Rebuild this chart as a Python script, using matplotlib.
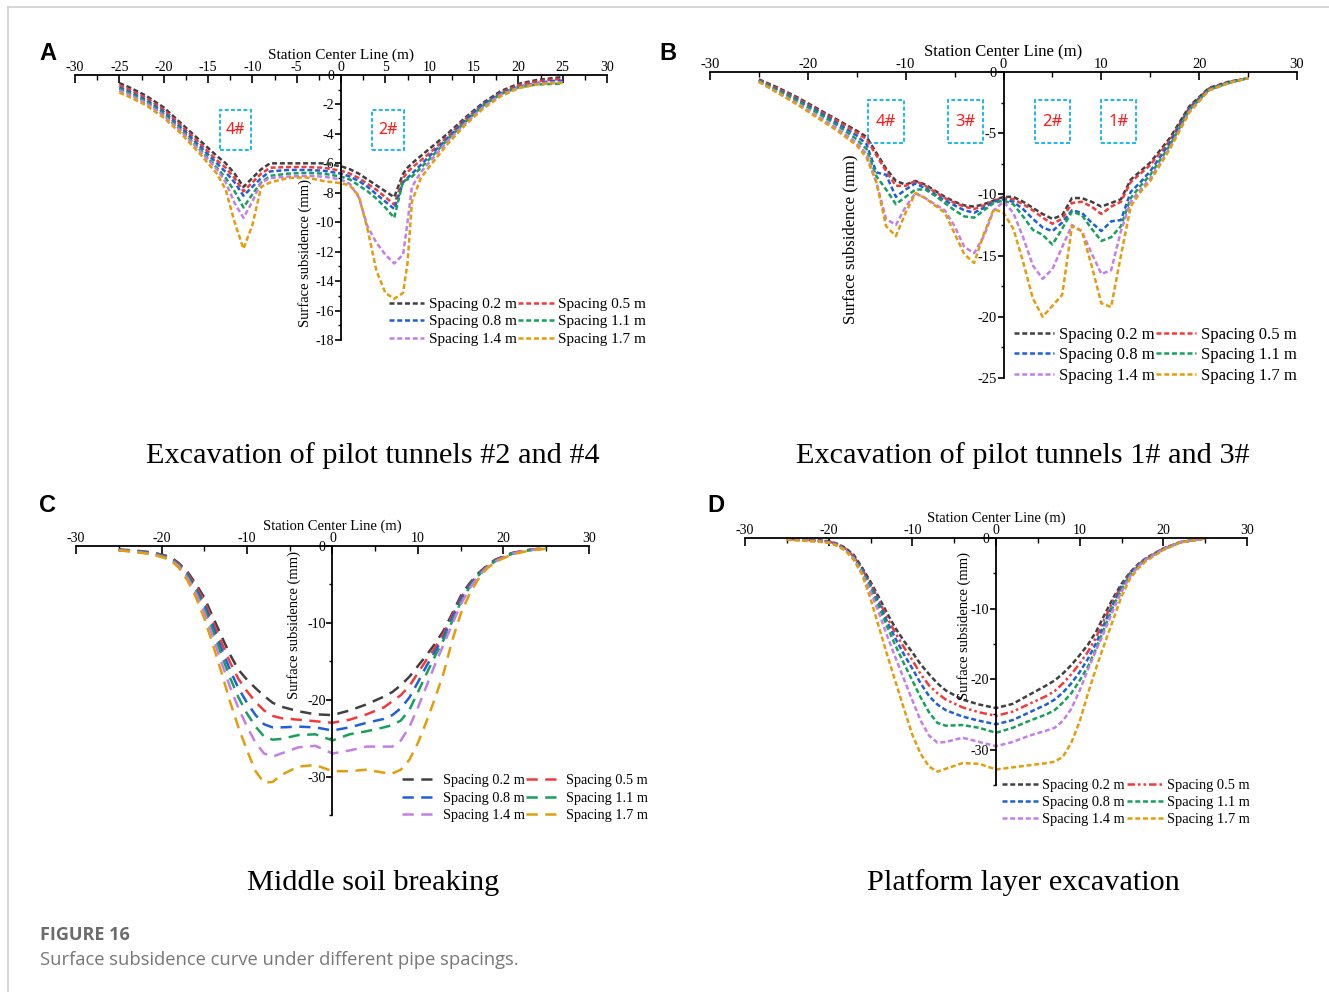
import matplotlib
matplotlib.use('Agg')
import matplotlib.pyplot as plt
from matplotlib.patches import Rectangle
from matplotlib.lines import Line2D
from matplotlib.ticker import MultipleLocator

plt.rcParams['axes.unicode_minus'] = False
SERIF = 'Liberation Serif'

labels = ['Spacing 0.2 m', 'Spacing 0.5 m', 'Spacing 0.8 m',
          'Spacing 1.1 m', 'Spacing 1.4 m', 'Spacing 1.7 m']
colors = ['#404040', '#f23a3a', '#1f5fd8', '#17a05c', '#c47fe6', '#e39d0c']

# ---------------- Panel A ----------------
xA = [-25, -24, -22, -20, -18, -16, -14, -13, -12, -11, -10, -9, -8, -6, -4, -2, 0, 1, 2, 3, 4, 5, 6, 7, 7.5, 8, 9, 10, 12, 14, 16, 18, 20, 22, 24, 25]
a_02 = [-0.55, -0.8, -1.4, -2.2, -3.3, -4.4, -5.5, -6.0, -6.7, -7.6, -7.0, -6.4, -6.0, -6.0, -6.0, -6.0, -6.2, -6.4, -6.7, -7.1, -7.5, -7.9, -8.3, -6.7, -6.3, -6.0, -5.5, -5.0, -4.0, -2.9, -1.9, -1.1, -0.6, -0.35, -0.2, -0.15]
a_05 = [-0.7, -0.95, -1.55, -2.35, -3.45, -4.6, -5.8, -6.3, -7.0, -7.9, -7.3, -6.7, -6.3, -6.25, -6.25, -6.3, -6.5, -6.7, -7.0, -7.4, -7.8, -8.3, -8.8, -7.0, -6.6, -6.3, -5.8, -5.3, -4.2, -3.0, -2.0, -1.2, -0.7, -0.45, -0.3, -0.28]
a_08 = [-0.85, -1.1, -1.7, -2.5, -3.6, -4.8, -6.0, -6.6, -7.3, -8.2, -7.6, -7.0, -6.55, -6.45, -6.45, -6.5, -6.7, -6.9, -7.2, -7.6, -8.1, -8.6, -9.1, -7.3, -7.0, -6.7, -6.1, -5.5, -4.3, -3.1, -2.0, -1.25, -0.8, -0.55, -0.4, -0.38]
a_11 = [-0.95, -1.2, -1.8, -2.65, -3.75, -5.0, -6.3, -7.0, -7.9, -9.0, -8.1, -7.3, -6.85, -6.7, -6.65, -6.7, -6.9, -7.1, -7.5, -7.9, -8.4, -9.0, -9.7, -7.2, -7.1, -6.9, -6.3, -5.7, -4.4, -3.2, -2.1, -1.3, -0.85, -0.65, -0.6, -0.6]
a_14 = [-1.05, -1.3, -1.9, -2.75, -3.85, -5.1, -6.4, -7.3, -8.7, -9.7, -8.6, -7.3, -7.0, -6.9, -6.85, -6.9, -7.1, -7.4, -8.3, -10.3, -11.4, -12.2, -12.8, -12.2, -10.0, -7.6, -6.6, -5.9, -4.5, -3.3, -2.2, -1.35, -0.85, -0.6, -0.5, -0.5]
a_17 = [-1.2, -1.45, -2.05, -2.9, -4.0, -5.3, -6.7, -7.8, -10.0, -11.8, -10.2, -7.6, -7.3, -7.0, -6.95, -7.2, -7.35, -7.5, -8.2, -10.5, -13.3, -14.8, -15.2, -14.8, -12.8, -8.6, -7.0, -6.2, -4.7, -3.4, -2.3, -1.45, -0.9, -0.65, -0.55, -0.55]

# ---------------- Panel B ----------------
xB = [-25, -23, -21, -19, -17, -15, -14, -13, -12, -11, -10, -9, -8, -7, -6, -5, -4, -3, -2, -1, 0, 1, 2, 3, 4, 5, 6, 7, 8, 9, 10, 11, 12, 13, 14, 15, 17, 19, 21, 23, 25]
b_02 = [-0.6, -1.3, -2.1, -3.0, -3.9, -4.8, -5.3, -6.6, -7.9, -8.9, -9.2, -8.9, -9.2, -9.7, -10.2, -10.6, -10.9, -11.0, -10.8, -10.5, -10.2, -10.2, -10.6, -11.1, -11.6, -12.0, -11.7, -10.3, -10.3, -10.6, -11.0, -10.7, -10.4, -8.8, -8.1, -7.4, -5.4, -2.8, -1.3, -0.8, -0.5]
b_05 = [-0.65, -1.4, -2.2, -3.1, -4.0, -4.95, -5.5, -6.8, -8.1, -9.3, -9.3, -8.9, -9.3, -9.8, -10.3, -10.7, -11.0, -11.2, -10.9, -10.5, -10.3, -10.4, -10.8, -11.3, -11.9, -12.4, -12.0, -10.7, -10.6, -11.0, -11.6, -11.0, -10.6, -9.0, -8.3, -7.6, -5.6, -2.9, -1.35, -0.85, -0.5]
b_08 = [-0.7, -1.5, -2.3, -3.2, -4.2, -5.2, -5.9, -8.2, -8.4, -10.2, -9.6, -9.1, -9.5, -10.0, -10.5, -10.9, -11.3, -11.5, -11.1, -10.6, -10.4, -10.6, -11.2, -12.0, -12.7, -13.0, -12.3, -11.3, -11.5, -12.3, -13.0, -12.2, -12.1, -9.8, -9.0, -8.1, -5.8, -3.0, -1.4, -0.85, -0.5]
b_11 = [-0.75, -1.55, -2.4, -3.35, -4.35, -5.5, -6.3, -8.5, -9.6, -10.8, -10.2, -9.6, -9.6, -10.1, -10.7, -11.3, -11.8, -11.9, -11.3, -10.7, -10.5, -10.8, -11.8, -12.9, -13.3, -14.1, -12.8, -11.4, -11.7, -12.8, -13.8, -13.5, -12.6, -10.3, -9.3, -8.4, -6.0, -3.1, -1.45, -0.9, -0.5]
b_14 = [-0.8, -1.7, -2.6, -3.6, -4.6, -5.8, -6.7, -9.0, -12.0, -12.5, -11.0, -9.9, -10.3, -10.8, -11.3, -12.6, -14.3, -14.8, -13.4, -11.3, -10.6, -11.5, -13.5, -15.8, -16.9, -16.1, -14.3, -12.5, -13.0, -14.8, -16.5, -16.2, -13.0, -10.6, -9.6, -8.7, -6.2, -3.2, -1.5, -0.9, -0.5]
b_17 = [-0.8, -1.75, -2.7, -3.75, -4.8, -6.0, -7.0, -9.0, -12.6, -13.4, -11.5, -9.9, -10.3, -10.9, -11.5, -13.2, -14.9, -15.6, -13.2, -11.2, -11.5, -12.8, -15.5, -18.5, -20.0, -19.1, -18.2, -12.6, -13.0, -15.8, -18.9, -19.2, -15.0, -11.0, -9.8, -8.9, -6.3, -3.3, -1.5, -0.9, -0.5]

# ---------------- Panel C ----------------
xC = [-25, -23, -21, -19, -18, -17, -16, -15, -14, -13, -12, -11, -10, -9, -8, -7, -6, -4, -2, 0, 2, 4, 6, 7, 8, 9, 10, 11, 12, 13, 14, 15, 16, 17, 18, 19, 21, 23, 25]
c_02 = [-0.45, -0.6, -0.85, -1.4, -2.2, -3.3, -4.9, -6.7, -9.2, -11.7, -14.1, -16.1, -17.4, -18.5, -19.5, -20.4, -20.9, -21.5, -21.9, -22.0, -21.4, -20.6, -19.6, -19.0, -18.1, -17.0, -15.6, -14.2, -12.7, -11.0, -8.8, -6.5, -4.9, -3.6, -2.6, -1.8, -0.9, -0.5, -0.25]
c_05 = [-0.5, -0.65, -0.9, -1.5, -2.3, -3.5, -5.2, -7.1, -9.8, -12.5, -15.1, -17.3, -18.9, -20.3, -21.4, -22.1, -22.4, -22.6, -22.8, -23.0, -22.6, -21.9, -21.0, -20.2, -19.4, -18.2, -16.5, -14.8, -13.2, -11.4, -9.1, -6.8, -5.1, -3.7, -2.7, -1.9, -0.95, -0.5, -0.28]
c_08 = [-0.5, -0.65, -0.95, -1.55, -2.4, -3.7, -5.5, -7.6, -10.4, -13.3, -16.1, -18.5, -20.4, -22.0, -23.2, -23.6, -23.6, -23.5, -23.6, -24.0, -23.6, -23.0, -22.5, -22.0, -21.1, -19.7, -17.7, -15.6, -13.7, -11.8, -9.4, -7.0, -5.2, -3.8, -2.75, -1.95, -1.0, -0.55, -0.3]
c_11 = [-0.55, -0.7, -1.0, -1.6, -2.5, -3.9, -5.8, -8.1, -11.0, -14.1, -17.1, -19.7, -21.8, -23.5, -24.8, -25.2, -25.1, -24.6, -24.5, -25.3, -24.5, -24.1, -23.6, -23.3, -22.7, -21.3, -19.0, -16.6, -14.3, -12.2, -9.8, -7.3, -5.4, -3.9, -2.8, -2.0, -1.0, -0.55, -0.3]
c_14 = [-0.55, -0.75, -1.05, -1.7, -2.6, -4.1, -6.1, -8.6, -11.8, -15.1, -18.3, -21.1, -23.5, -25.6, -27.0, -27.4, -27.0, -26.2, -26.0, -27.0, -26.6, -26.1, -26.1, -26.1, -25.3, -23.5, -21.0, -18.2, -15.4, -12.8, -10.2, -7.6, -5.6, -4.0, -2.85, -2.0, -1.0, -0.55, -0.3]
c_17 = [-0.55, -0.8, -1.1, -1.8, -2.8, -4.4, -6.6, -9.4, -12.8, -16.4, -20.2, -23.6, -26.6, -29.3, -30.8, -30.7, -29.8, -28.7, -28.5, -29.3, -29.3, -29.1, -29.5, -29.6, -29.1, -27.8, -25.6, -22.8, -19.8, -16.5, -12.3, -8.8, -6.3, -4.4, -3.0, -2.1, -1.1, -0.6, -0.35]

# ---------------- Panel D ----------------
xD = [-25, -23, -21, -20, -19, -18, -17, -16, -15, -14, -13, -12, -11, -10, -9, -8, -7, -6, -4, -2, 0, 2, 4, 6, 7, 8, 9, 10, 11, 12, 13, 14, 15, 16, 17, 18, 20, 22, 25]
d_02 = [-0.15, -0.25, -0.35, -0.45, -0.8, -1.4, -2.4, -4.2, -6.2, -8.4, -10.7, -12.8, -14.6, -16.2, -17.9, -19.3, -20.6, -21.6, -22.9, -23.6, -24.1, -23.5, -22.2, -20.9, -20.2, -19.2, -18.0, -16.6, -15.1, -13.2, -10.8, -8.5, -6.5, -4.9, -3.7, -2.8, -1.5, -0.6, -0.05]
d_05 = [-0.15, -0.25, -0.4, -0.5, -0.85, -1.5, -2.6, -4.4, -6.5, -8.8, -11.3, -13.5, -15.5, -17.3, -19.3, -20.9, -22.0, -22.9, -24.0, -24.7, -25.2, -24.6, -23.5, -22.4, -21.7, -20.6, -19.3, -17.8, -16.1, -14.0, -11.4, -8.9, -6.8, -5.0, -3.8, -2.85, -1.5, -0.6, -0.05]
d_08 = [-0.15, -0.27, -0.42, -0.55, -0.9, -1.6, -2.7, -4.5, -6.7, -9.2, -11.9, -14.3, -16.5, -18.5, -20.6, -22.4, -23.6, -24.4, -25.3, -25.9, -26.4, -25.8, -24.7, -23.6, -22.9, -21.9, -20.6, -19.0, -17.1, -14.8, -12.0, -9.3, -7.0, -5.1, -3.85, -2.9, -1.55, -0.6, -0.05]
d_11 = [-0.17, -0.3, -0.45, -0.6, -0.95, -1.65, -2.8, -4.7, -7.0, -9.7, -12.6, -15.3, -17.8, -20.2, -22.6, -24.7, -26.2, -26.6, -26.5, -26.9, -27.6, -26.9, -25.9, -25.0, -24.4, -23.3, -22.0, -20.2, -18.2, -15.6, -12.6, -9.7, -7.3, -5.3, -3.95, -2.95, -1.6, -0.6, -0.05]
d_14 = [-0.2, -0.33, -0.48, -0.62, -1.0, -1.7, -2.9, -5.0, -7.6, -10.6, -13.9, -17.0, -20.0, -23.0, -25.9, -28.0, -29.0, -28.9, -28.3, -28.9, -29.5, -28.9, -28.0, -27.3, -26.9, -25.9, -24.2, -21.6, -18.6, -15.8, -13.1, -10.2, -7.6, -5.5, -4.05, -3.0, -1.6, -0.6, -0.05]
d_17 = [-0.25, -0.4, -0.55, -0.7, -1.1, -1.8, -3.1, -5.2, -8.6, -12.6, -16.6, -20.4, -24.2, -27.9, -30.6, -32.4, -33.1, -32.7, -31.9, -32.0, -32.8, -32.5, -32.2, -31.9, -31.7, -31.0, -29.0, -26.0, -22.0, -18.3, -14.9, -11.6, -8.3, -5.8, -4.3, -3.2, -1.7, -0.65, -0.05]

boxesA = [('4#', -13.7, -10.1), ('2#', 3.5, 7.1)]
boxesB = [('4#', -13.8, -10.2), ('3#', -5.7, -2.1), ('2#', 3.2, 6.8), ('1#', 10.0, 13.5)]

W, H = 1329, 992
fig = plt.figure(figsize=(W / 100, H / 100), dpi=100)


def rect(l, r, t, b):
    return [l / W, 1 - b / H, (r - l) / W, (b - t) / H]


def style(ax, ylim, xmaj, xmin, ymaj, ymin, tfs, lfs):
    ax.set_xlim(-30, 30)
    ax.set_ylim(ylim, 0)
    ax.patch.set_alpha(0)
    for s in ['right', 'bottom']:
        ax.spines[s].set_visible(False)
    ax.spines['left'].set_position(('data', 0))
    for s in ['left', 'top']:
        ax.spines[s].set_linewidth(1.3)
    ax.xaxis.tick_top()
    ax.xaxis.set_label_position('top')
    ax.xaxis.set_major_locator(MultipleLocator(xmaj))
    ax.xaxis.set_minor_locator(MultipleLocator(xmin))
    ax.yaxis.set_major_locator(MultipleLocator(ymaj))
    if ymin:
        ax.yaxis.set_minor_locator(MultipleLocator(ymin))
    ax.tick_params(axis='x', which='major', direction='in', length=6, width=1.2, pad=1, labelsize=tfs)
    ax.tick_params(axis='x', which='minor', direction='in', length=3.5, width=1.0)
    ax.tick_params(axis='y', which='major', direction='out', length=4, width=1.2, pad=1, labelsize=tfs)
    ax.tick_params(axis='y', which='minor', direction='out', length=2, width=1.0)
    for lab in ax.get_xticklabels() + ax.get_yticklabels():
        lab.set_family(SERIF)
    ax.set_xlabel('Station Center Line (m)', family=SERIF, fontsize=lfs, labelpad=1)


def draw(ax, x, series, dashes_list, lw):
    for y, c, d in zip(series, colors, dashes_list):
        ax.plot(x, y, color=c, lw=lw, dashes=d)


def legend(ax, dashes_list, lw, fs, anchor, hl, ls):
    handles = [Line2D([], [], color=c, lw=lw, dashes=d) for c, d in zip(colors, dashes_list)]
    order = [0, 2, 4, 1, 3, 5]
    ax.legend([handles[i] for i in order], [labels[i] for i in order], ncol=2,
              loc='lower right', bbox_to_anchor=anchor, bbox_transform=fig.transFigure,
              frameon=False, prop={'family': SERIF, 'size': fs}, handlelength=hl,
              handletextpad=0.3, columnspacing=0.1, labelspacing=ls, borderpad=0, borderaxespad=0)


def boxes(ax, items, top, bot, fs):
    for txt, l, r in items:
        ax.add_patch(Rectangle((l, bot), r - l, top - bot, fill=False, ec='#1ab8f0',
                               lw=1.4, ls=(0, (2, 1.2))))
        ax.text((l + r) / 2, (top + bot) / 2, txt, color='#ff1a1a', fontsize=fs,
                ha='center', va='center', family='Noto Sans')


short = [(2.0, 1.1)] * 6
long_ = [(4.5, 3)] * 6
dashD = [(2.0, 1.1), (3, 1.2, 1, 1.2, 1, 1.2), (2.0, 1.1), (2.0, 1.1), (2.0, 1.1), (2.0, 1.1)]

# Panel A
axA = fig.add_axes(rect(75, 607, 75, 340))
draw(axA, xA, [a_02, a_05, a_08, a_11, a_14, a_17], short, 1.8)
style(axA, -18, 5, 2.5, 2, 1, 10, 11)
boxes(axA, boxesA, -2.4, -5.1, 11.5)
axA.text(-4.1, -12.1, 'Surface subsidence (mm)', rotation=90, ha='center', va='center',
         family=SERIF, fontsize=10.5)
legend(axA, short, 1.8, 11, (646 / W, 1 - 346 / H), 2.3, 0.25)

# Panel B
axB = fig.add_axes(rect(710, 1297, 72, 378))
draw(axB, xB, [b_02, b_05, b_08, b_11, b_14, b_17], short, 1.8)
style(axB, -25, 10, 5, 5, 2.5, 10.5, 12)
boxes(axB, boxesB, -2.3, -5.8, 12)
axB.text(-15.6, -13.7, 'Surface subsidence (mm)', rotation=90, ha='center', va='center',
         family=SERIF, fontsize=12)
legend(axB, short, 1.8, 12, (1297 / W, 1 - 384 / H), 2.4, 0.28)

# Panel C
axC = fig.add_axes(rect(76, 589, 546, 815))
draw(axC, xC, [c_02, c_05, c_08, c_11, c_14, c_17], long_, 1.8)
style(axC, -35, 10, 5, 10, 5, 10, 10.5)
axC.text(-4.5, -10.3, 'Surface subsidence (mm)', rotation=90, ha='center', va='center',
         family=SERIF, fontsize=10.5)
legend(axC, long_, 1.8, 10.3, (648 / W, 1 - 822 / H), 2.5, 0.3)

# Panel D
axD = fig.add_axes(rect(745, 1247, 538, 785))
draw(axD, xD, [d_02, d_05, d_08, d_11, d_14, d_17], dashD, 1.8)
style(axD, -35, 10, 5, 10, 5, 10, 10.5)
axD.text(-3.8, -12.4, 'Surface subsidence (mm)', rotation=90, ha='center', va='center',
         family=SERIF, fontsize=10.5)
legend(axD, dashD, 1.8, 10.4, (1250 / W, 1 - 826 / H), 2.5, 0.27)

# Panel letters
for letter, px, py in [('A', 48, 54), ('B', 668, 54), ('C', 48, 506), ('D', 716, 506)]:
    fig.text(px / W, 1 - py / H, letter, fontsize=17, fontweight='bold',
             family='Liberation Sans', ha='center', va='center')

# Subtitles
for txt, px, py in [('Excavation of pilot tunnels #2 and #4', 373, 456),
                    ('Excavation of pilot tunnels 1# and 3#', 1023, 456),
                    ('Middle soil breaking', 373, 883),
                    ('Platform layer excavation', 1023, 883)]:
    fig.text(px / W, 1 - py / H, txt, fontsize=21.8, family=SERIF, ha='center', va='center')

# Caption
fig.text(40 / W, 1 - 935 / H, 'FIGURE 16', fontsize=13, fontweight='bold', color='#6b6b6b',
         family='Open Sans', ha='left', va='center')
fig.text(40 / W, 1 - 960 / H, 'Surface subsidence curve under different pipe spacings.',
         fontsize=13.2, color='#777777', family='Open Sans', ha='left', va='center')

# Frame
fig.add_artist(Line2D([8 / W, 1], [1 - 7 / H, 1 - 7 / H], color='#cfcfcf', lw=1.2,
                      transform=fig.transFigure))
fig.add_artist(Line2D([8 / W, 8 / W], [0, 1 - 7 / H], color='#cfcfcf', lw=1.2,
                      transform=fig.transFigure))

fig.savefig('out.png', dpi=100)
